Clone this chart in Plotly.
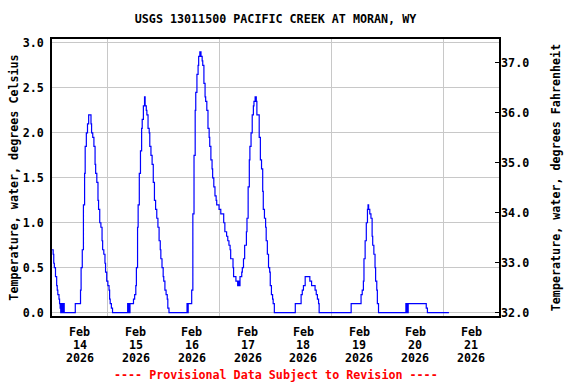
import pandas as pd
import plotly.graph_objects as go

# ---- data (hours since 2026-02-14 00:00, deg C) ----
start_time = "2026-02-14 00:00"
hours = [
    0.0, 0.5, 0.75, 1.0, 1.5, 2.0, 2.25, 2.5, 3.0, 3.25, 3.5, 3.75, 4.0, 4.5, 4.75, 5.25,
    10.0, 12.25, 12.5, 13.0, 13.5, 14.0, 14.25, 14.75, 15.25, 15.75, 16.75, 17.0, 17.5,
    18.0, 18.5, 18.75, 19.25, 19.75, 20.0, 20.5, 21.0, 21.5, 21.75, 22.25, 22.75, 23.0,
    23.5, 24.0, 24.5, 24.75, 25.0, 25.5, 26.0,
    32.5, 33.0, 33.5, 35.0, 35.5, 36.0, 36.25, 36.75, 37.0, 37.5, 38.0, 38.5, 38.75,
    39.25, 39.75, 40.0, 40.5, 40.75, 41.25, 41.75, 42.0, 42.5, 43.0, 43.5, 44.0, 44.5,
    45.0, 45.5, 46.0, 46.5, 46.75, 47.25, 47.75, 48.0, 48.5, 49.0, 49.5, 49.75, 50.25,
    58.0, 58.25, 58.5, 60.0, 60.5, 61.0, 61.5, 61.75, 62.25, 62.75, 63.0, 63.5, 64.0,
    64.5, 64.75, 65.25, 65.75, 66.0, 66.5, 67.0, 67.5, 67.75, 68.25, 68.75, 69.0, 69.5,
    70.0, 70.5, 70.75, 71.75, 72.5, 73.75, 74.25, 75.0, 75.5, 76.0, 76.5, 76.75, 77.75,
    78.0, 79.0, 79.75, 80.0, 80.25, 80.75, 81.5, 81.75, 82.25, 82.75, 83.5, 83.75, 84.25,
    84.75, 85.0, 85.5, 86.0, 86.5, 86.75, 87.25, 87.75, 88.0, 89.0, 89.5, 90.0, 90.5,
    90.75, 91.25, 91.75, 92.0, 92.5, 93.0, 93.5, 93.75, 94.25, 94.75, 95.0, 95.5,
    104.5, 107.0, 107.5, 108.0, 108.75, 110.75, 111.5, 113.0, 113.5, 114.0, 114.5, 114.75,
    128.5, 132.75, 133.25, 133.75, 134.0, 134.5, 135.0, 135.5, 135.75, 136.0, 136.5,
    137.0, 137.5, 137.75, 138.25, 138.75, 139.0, 139.5, 139.75, 140.25,
    152.0, 152.5, 153.0, 160.75, 161.25, 170.5,
]
temp_c = [
    0.7, 0.65, 0.55, 0.5, 0.4, 0.3, 0.25, 0.2, 0.15, 0.1, 0.05, 0.0, 0.1, 0.0, 0.1, 0.0,
    0.1, 0.25, 0.5, 0.7, 1.2, 1.55, 1.85, 2.0, 2.1, 2.2, 2.1, 2.0, 1.95,
    1.85, 1.65, 1.55, 1.45, 1.25, 1.15, 1.0, 0.95, 0.8, 0.7, 0.65, 0.55, 0.45,
    0.35, 0.3, 0.25, 0.15, 0.1, 0.05, 0.0,
    0.1, 0.0, 0.1, 0.15, 0.2, 0.3, 0.5, 0.95, 1.2, 1.55, 1.8, 2.05, 2.15,
    2.3, 2.4, 2.3, 2.25, 2.2, 2.05, 2.0, 1.85, 1.75, 1.65, 1.45, 1.25, 1.15,
    1.05, 0.95, 0.8, 0.7, 0.6, 0.5, 0.4, 0.35, 0.25, 0.2, 0.15, 0.05, 0.0,
    0.1, 0.0, 0.1, 0.25, 1.1, 1.75, 2.25, 2.45, 2.65, 2.75, 2.85, 2.9, 2.85,
    2.8, 2.75, 2.55, 2.4, 2.35, 2.25, 2.05, 1.95, 1.85, 1.7, 1.6, 1.5, 1.4,
    1.3, 1.25, 1.2, 1.15, 1.1, 1.0, 0.9, 0.85, 0.8, 0.75, 0.7, 0.6, 0.5,
    0.4, 0.35, 0.3, 0.35, 0.3, 0.4, 0.45, 0.5, 0.6, 0.75, 0.9, 1.05, 1.4,
    1.7, 1.85, 2.0, 2.2, 2.3, 2.35, 2.4, 2.35, 2.2, 1.95, 1.7, 1.6, 1.35,
    1.15, 1.05, 0.95, 0.8, 0.65, 0.5, 0.45, 0.3, 0.2, 0.15, 0.1, 0.0,
    0.1, 0.2, 0.25, 0.3, 0.4, 0.35, 0.3, 0.25, 0.2, 0.15, 0.1, 0.0,
    0.1, 0.2, 0.25, 0.35, 0.6, 0.8, 1.0, 1.15, 1.2, 1.15, 1.1,
    1.05, 0.85, 0.75, 0.65, 0.5, 0.35, 0.25, 0.1, 0.0,
    0.1, 0.0, 0.1, 0.05, 0.0, 0.0,
]
label_times = ["2026-02-14 12:00", "2026-02-15 12:00", "2026-02-16 12:00", "2026-02-17 12:00",
               "2026-02-18 12:00", "2026-02-19 12:00", "2026-02-20 12:00", "2026-02-21 12:00"]
label_month = ["Feb"] * 8
label_day = ["14", "15", "16", "17", "18", "19", "20", "21"]
label_year = ["2026"] * 8
x_range = ["2026-02-14 00:00", "2026-02-22 00:00"]
c_range = [-0.037, 3.044]

times = [pd.Timestamp(start_time) + pd.Timedelta(hours=h) for h in hours]
temp_f = [32 + 1.8 * c for c in temp_c]

FONT = "DejaVu Sans Mono"
FS = 11.7
PLOT_H = 384 - 39 - 68

fig = go.Figure()
fig.add_trace(go.Scatter(x=times, y=temp_c, mode="lines", line=dict(color="#0000ff", width=1.2, shape="hv"),
                         showlegend=False, hoverinfo="skip"))
fig.add_trace(go.Scatter(x=times, y=temp_f, mode="lines", yaxis="y2",
                         line=dict(color="rgba(0,0,0,0)", width=0, shape="hv"),
                         showlegend=False, hoverinfo="skip"))

annotations = []
for row, (texts, off) in enumerate([(label_month, 15.5), (label_day, 28.5), (label_year, 41.5)]):
    for t, s in zip(label_times, texts):
        annotations.append(dict(text=s, x=t, xref="x", y=-off / PLOT_H, yref="paper",
                                yanchor="middle", xanchor="center", showarrow=False,
                                font=dict(family=FONT, size=FS, color="black", weight="bold")))
annotations.append(dict(text="---- Provisional Data Subject to Revision ----", x=0.5, xref="paper",
                        y=-59 / PLOT_H, yref="paper", yanchor="middle", showarrow=False,
                        font=dict(family=FONT, size=FS, color="#ff0000", weight="bold")))

fig.update_layout(
    width=576, height=384,
    margin=dict(l=52, r=77, t=39, b=68, autoexpand=False),
    paper_bgcolor="white", plot_bgcolor="white",
    font=dict(family=FONT, size=FS, color="black", weight="bold"),
    title=dict(text="USGS 13011500 PACIFIC CREEK AT MORAN, WY", x=0.5, xref="paper",
               y=1 - 19 / 384, yref="container", yanchor="middle",
               font=dict(family=FONT, size=FS, color="black", weight="bold")),
    xaxis=dict(type="date", range=x_range, showticklabels=False, automargin=False,
               showgrid=False, ticks="", showline=True, linecolor="black", linewidth=1.5,
               mirror=True,
               minor=dict(dtick=86400000, tick0="2026-02-14", showgrid=True,
                          gridcolor="#c8c8c8", gridwidth=1, ticks="")),
    yaxis=dict(range=c_range, dtick=0.5, tick0=0, tickformat=".1f", showgrid=True,
               gridcolor="#c8c8c8", gridwidth=1, zeroline=False, ticks="",
               showline=True, linecolor="black", linewidth=1.5, mirror=True,
               ticklabelstandoff=4, automargin=False,
               title=dict(text="Temperature, water, degrees Celsius", standoff=2,
                          font=dict(family=FONT, size=FS, weight="bold"))),
    yaxis2=dict(range=[32 + 1.8 * c_range[0], 32 + 1.8 * c_range[1]], dtick=1, tick0=32,
                tickformat=".1f", overlaying="y", side="right", showgrid=False,
                zeroline=False, ticks="inside", ticklen=4, tickcolor="black",
                showline=True, linecolor="black", linewidth=1.5, automargin=False,
                ticklabelstandoff=-2,
                title=dict(text="Temperature, water, degrees Fahrenheit", standoff=24,
                           font=dict(family=FONT, size=FS, weight="bold"))),
    annotations=annotations,
)

fig.write_html("out.html", config={"displayModeBar": False},
               post_script="document.body.style.margin='0';")
